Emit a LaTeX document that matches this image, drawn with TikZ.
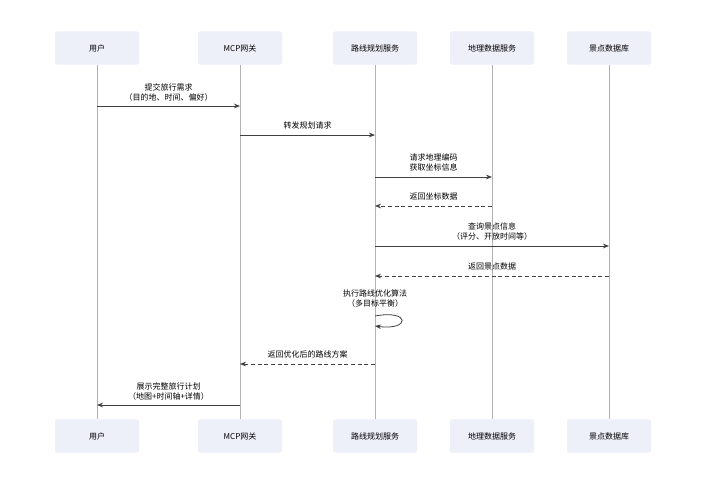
\documentclass[tikz,border=0pt]{standalone}
\usepackage{fontspec}
\setmainfont{Noto Sans CJK SC}
\usetikzlibrary{arrows.meta}
\definecolor{boxc}{HTML}{EDEFF9}
\tikzset{x=1pt,y=-1pt,
 actor/.style={fill=boxc,rounded corners=2pt,minimum width=63pt,minimum height=25pt,font=\fontsize{6}{7}\selectfont},
 life/.style={draw=gray!60,line width=0.5pt},
 msg/.style={draw=black!75,line width=0.6pt,-{Stealth[length=4.5pt,width=3.5pt]}},
 reply/.style={msg,densely dashed},
 lbl/.style={font=\fontsize{6}{7.5}\selectfont,align=center,inner sep=1pt}}
\begin{document}
\begin{tikzpicture}
\useasboundingbox[fill=white] (0,0) rectangle (545.25,375);
\foreach \n/\x/\t in {a/72.75/用户,b/180/MCP网关,c/281.25/路线规划服务,d/369/地理数据服务,e/456.75/景点数据库}{
 \node[actor] (\n t) at (\x,36) {\t};
 \node[actor] (\n b) at (\x,327) {\t};
 \draw[life] (\n t.south) -- (\n b.north);
}
\coordinate (a1) at (72.75,79.5); \coordinate (b1) at (180,79.5);
\draw[msg] (a1) -- node[lbl,above=2pt]{提交旅行需求\\（目的地、时间、偏好）} (b1);
\coordinate (b2) at (180,101.25); \coordinate (c2) at (281.25,101.25);
\draw[msg] (b2) -- node[lbl,above=3pt]{转发规划请求} (c2);
\coordinate (c3) at (281.25,132.75); \coordinate (d3) at (369,132.75);
\draw[msg] (c3) -- node[lbl,above=3pt]{请求地理编码\\获取坐标信息} (d3);
\coordinate (d4) at (369,154.5); \coordinate (c4) at (281.25,154.5);
\draw[reply] (d4) -- node[lbl,above=3pt]{返回坐标数据} (c4);
\coordinate (c5) at (281.25,184.5); \coordinate (e5) at (456.75,184.5);
\draw[msg] (c5) -- node[lbl,above=3pt]{查询景点信息\\（评分、开放时间等）} (e5);
\coordinate (e6) at (456.75,207); \coordinate (c6) at (281.25,207);
\draw[reply] (e6) -- node[lbl,above=3pt]{返回景点数据} (c6);
\coordinate (c7) at (281.25,237); \coordinate (c7b) at (281.25,244.5);
\node[lbl] (self) at (281.25,224) {执行路线优化算法\\（多目标平衡）};
\draw[msg] (c7) .. controls (308,232) and (308,248) .. (c7b);
\coordinate (c8) at (281.25,273); \coordinate (b8) at (180,273);
\draw[reply] (c8) -- node[lbl,above=3pt]{返回优化后的路线方案} (b8);
\coordinate (b9) at (180,303.75); \coordinate (a9) at (72.75,303.75);
\draw[msg] (b9) -- node[lbl,above=2pt]{展示完整旅行计划\\（地图+时间轴+详情）} (a9);
\end{tikzpicture}
\end{document}
